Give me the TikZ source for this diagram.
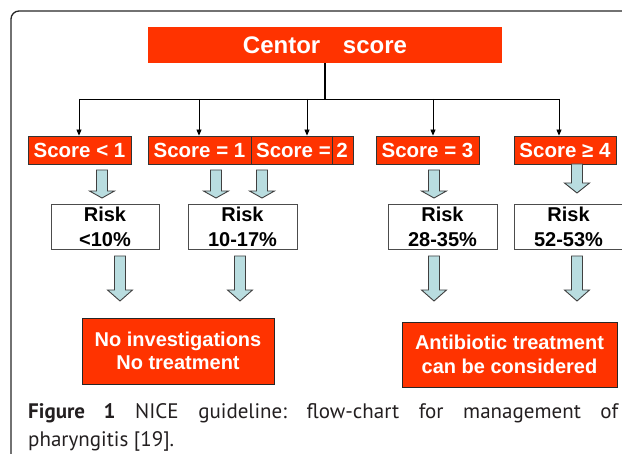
\documentclass[tikz,border=0pt]{standalone}
\usepackage{fontspec}
\setmainfont{Liberation Sans}
\newfontfamily\capfont{PT Sans}
\usetikzlibrary{arrows.meta}
\definecolor{redc}{RGB}{255,51,0}
\definecolor{bluec}{RGB}{185,221,224}
\definecolor{capc}{RGB}{35,31,32}
\newcommand\barr[4]{\draw[barrow] (#1-5.5,#2) -- (#1+5.5,#2) -- (#1+5.5,#3) -- (#1+12.5,#3) -- (#1,#4) -- (#1-12.5,#3) -- (#1-5.5,#3) -- cycle;}
\tikzset{
  centorbox/.style={fill=redc, draw=none, text=white, inner sep=0pt,
    font=\bfseries\fontsize{24}{28}\selectfont},
  scorebox/.style={fill=redc, draw=black!80, line width=0.8pt, text=white, inner sep=0pt,
    minimum height=28pt, font=\bfseries\fontsize{20.5}{22}\selectfont},
  riskbox/.style={fill=white, draw=black!70, line width=0.9pt, inner sep=0pt, align=center,
    minimum width=109pt, minimum height=45pt, font=\bfseries\fontsize{20}{25}\selectfont},
  endbox/.style={fill=redc, draw=black!85, line width=0.9pt, text=white, inner sep=0pt, align=center,
    font=\bfseries\fontsize{20}{23.5}\selectfont},
  barrow/.style={fill=bluec, draw=black!75, line width=0.9pt, line join=miter},
  tarrow/.style={-{Triangle[length=6pt,width=5pt]}, line width=0.8pt},
  capline/.style={anchor=base west, inner sep=0pt, text=capc, font=\capfont\fontsize{21}{28}\selectfont}
}
\begin{document}
\frenchspacing
\begin{tikzpicture}[x=1pt,y=-1pt]
\useasboundingbox (0,0) rectangle (622,454);
% frame
\draw[line width=1.3pt, draw=black!85, rounded corners=8pt] (11,460) -- (11,11) -- (630,11);
% top node
\node[centorbox, minimum width=354pt, minimum height=36pt] (centor) at (325,45) {Centor\hspace{16pt} score};
% score boxes
\node[scorebox, minimum width=103pt] (s0) at (79.5,150) {Score < 1};
\node[scorebox, minimum width=103pt] (s1) at (199.5,150) {Score = 1};
\node[scorebox, minimum width=102pt,
  path picture={\draw[black!80, line width=0.6pt]
    ([xshift=-21pt]path picture bounding box.north east) --
    ([xshift=-21pt]path picture bounding box.south east);}] (s2) at (302,150) {Score = 2};
\node[scorebox, minimum width=103pt] (s3) at (427.5,150) {Score = 3};
\node[scorebox, minimum width=102pt] (s4) at (565,150) {Score ≥ 4};
% bus
\coordinate (bus) at (325,99);
\coordinate (a0) at (79,99);
\coordinate (a1) at (199,99);
\coordinate (a2) at (307,99);
\coordinate (a3) at (433,99);
\coordinate (a4) at (559,99);
\draw[line width=1.4pt] (centor.south) -- (bus);
\draw[line width=0.8pt] (a0) -- (a4);
\draw[tarrow] (a0) -- (a0 |- s0.north);
\draw[tarrow] (a1) -- (a1 |- s1.north);
\draw[tarrow] (a2) -- (a2 |- s2.north);
\draw[tarrow] (a3) -- (a3 |- s3.north);
\draw[tarrow] (a4) -- (a4 |- s4.north);
% risk boxes
\node[riskbox, minimum width=108pt] (r0) at (105,226.5) {Risk\\<10\%};
\node[riskbox] (r1) at (242.5,226.5) {Risk\\10-17\%};
\node[riskbox] (r2) at (442.5,226.5) {Risk\\28-35\%};
\node[riskbox] (r3) at (568.5,226.5) {Risk\\52-53\%};
% small block arrows
\barr{102}{170}{191}{198}
\barr{216}{170}{191}{198}
\barr{262}{170}{191}{198}
\barr{434}{170}{191}{198}
\barr{577}{164}{183}{193}
% big block arrows
\barr{120}{256}{290}{301}
\barr{240}{256}{290}{301}
\barr{434}{256}{290}{301}
\barr{577}{256}{290}{301}
% end boxes
\node[endbox, minimum width=192pt, minimum height=66pt] (b0) at (178,351) {No investigations\\No treatment};
\node[endbox, minimum width=215pt, minimum height=65pt] (b1) at (509.5,354.5) {Antibiotic treatment\\can be considered};
% caption
\node[capline] (cap1) at (28,419) {\makebox[590pt][s]{\textbf{Figure 1} NICE guideline: flow-chart for management of}};
\node[capline] (cap2) at (28,447) {pharyngitis [19].};
\end{tikzpicture}
\end{document}
